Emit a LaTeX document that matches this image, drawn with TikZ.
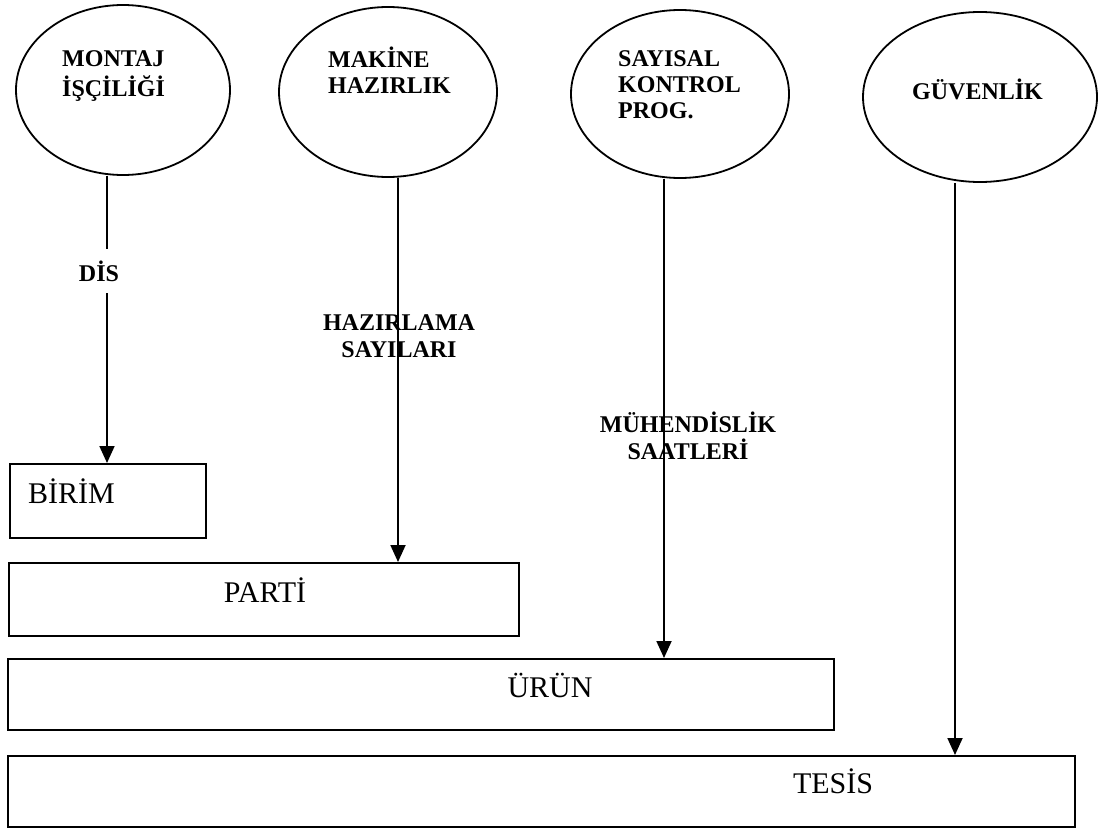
\documentclass[tikz,border=0pt]{standalone}
\usepackage{fontspec}
\setmainfont{Liberation Serif}
\usetikzlibrary{shapes.geometric,arrows.meta}
\begin{document}
\begin{tikzpicture}[x=1pt,y=-1pt,
  outline/.style={draw=black,line width=1.8pt},
  bubble/.style={outline,ellipse,inner sep=0pt},
  level/.style={outline,rectangle,inner sep=0pt,anchor=north west},
  head/.style={font=\fontsize{24}{26}\selectfont\bfseries,align=left,inner sep=0pt,anchor=north west},
  tag/.style={font=\fontsize{24}{27}\selectfont\bfseries,align=center,inner sep=0pt},
  boxtext/.style={font=\fontsize{30}{34}\selectfont,inner sep=0pt},
  link/.style={line width=1.8pt},
  arr/.style={link,-{Triangle[width=15pt,length=17pt]}}
]
\useasboundingbox (0,0) rectangle (1099,832);

% cost drivers
\node[bubble,minimum width=214pt,minimum height=170pt] (e1) at (123,90) {};
\node[bubble,minimum width=218pt,minimum height=170pt] (e2) at (388,92) {};
\node[bubble,minimum width=218pt,minimum height=168pt] (e3) at (680,94) {};
\node[bubble,minimum width=234pt,minimum height=170pt] (e4) at (980,97) {};

\node[head] (t1) at (62,48) {\strut MONTAJ\\\strut İŞÇİLİĞİ};
\node[head] (t2) at (328,47) {\strut MAKİNE\\\strut HAZIRLIK};
\node[head] (t3) at (618,48) {\strut SAYISAL\\\strut KONTROL\\\strut PROG.};
\node[head] (t4) at (912,79) {\strut GÜVENLİK};

% hierarchy levels
\node[level,minimum width=196pt,minimum height=74pt] (birim) at (9,463) {};
\node[level,minimum width=510pt,minimum height=73pt] (parti) at (8,562) {};
\node[level,minimum width=826pt,minimum height=71pt] (urun) at (7,658) {};
\node[level,minimum width=1067pt,minimum height=71pt] (tesis) at (7,755) {};

\node[boxtext,anchor=west] (lb1) at (28,491) {BİRİM};
\node[boxtext] (lb2) at (265,590) {PARTİ};
\node[boxtext] (lb3) at (550,685) {ÜRÜN};
\node[boxtext] (lb4) at (833,781) {TESİS};

% connector labels
\node[tag] (dis) at (99,271) {DİS};
\node[tag] (haz) at (399,336) {HAZIRLAMA\\SAYILARI};
\node[tag] (muh) at (688,436) {MÜHENDİSLİK\\SAATLERİ};

% connector columns
\coordinate (x1) at (107,0);
\coordinate (x2) at (398,0);
\coordinate (x3) at (664,0);
\coordinate (x4) at (955,0);
\coordinate (gapa) at (107,249);
\coordinate (gapb) at (107,293);

\draw[link] (e1.south -| x1) -- (gapa);
\draw[arr] (gapb) -- (birim.north -| x1);
\draw[arr] (e2.south -| x2) -- (parti.north -| x2);
\draw[arr] (e3.south -| x3) -- (urun.north -| x3);
\draw[arr] (e4.south -| x4) -- (tesis.north -| x4);
\end{tikzpicture}
\end{document}
